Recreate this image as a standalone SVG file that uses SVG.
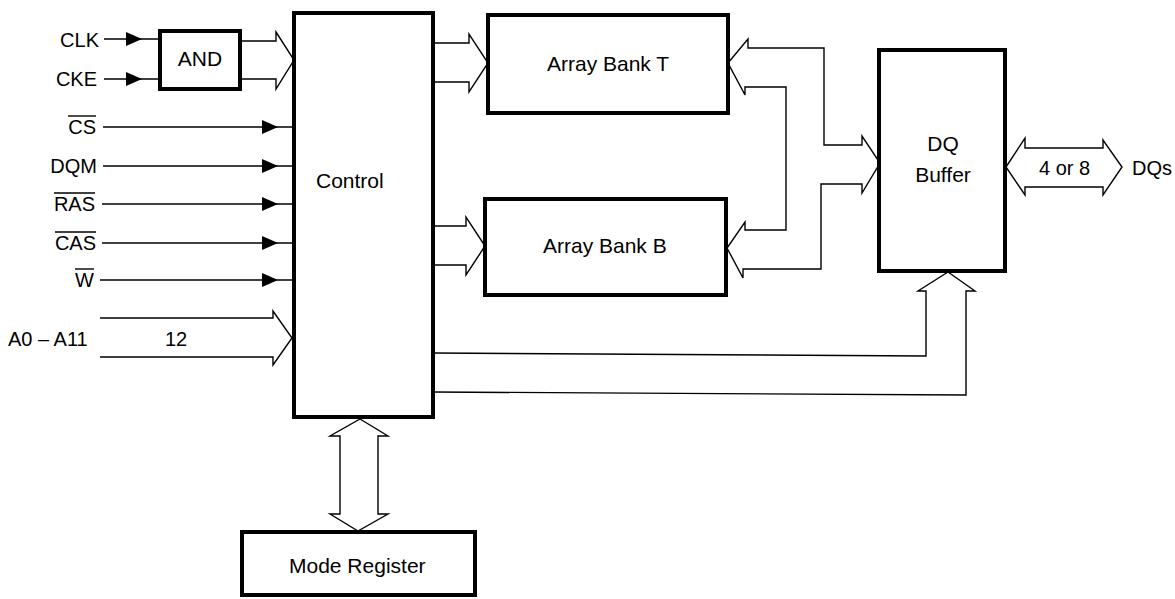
<svg xmlns="http://www.w3.org/2000/svg" width="1175" height="599" viewBox="0 0 1175 599">
<style>
text{font-family:"Liberation Sans",Arial,Helvetica,sans-serif;font-size:20px;fill:#000}
.lbl{text-anchor:end}
.box{fill:#fff;stroke:#000;stroke-width:4}
.bt{font-size:21px}
.w{fill:none;stroke:#000;stroke-width:1.4}
.bus{fill:#fff;stroke:#000;stroke-width:1.4;stroke-linejoin:miter}
.ov{stroke:#000;stroke-width:1.4}
</style>
<defs>
<path id="tri" d="M0,0 L-16,-7 L-16,7 Z" fill="#000"/>
</defs>
<g id="connectors">
<line class="w" x1="104" y1="39" x2="160" y2="39"/><use href="#tri" x="142" y="39"/>
<line class="w" x1="104" y1="79" x2="160" y2="79"/><use href="#tri" x="142" y="79"/>
<line class="w" x1="103" y1="127" x2="294" y2="127"/><use href="#tri" x="278" y="127"/>
<line class="w" x1="103" y1="166" x2="294" y2="166"/><use href="#tri" x="278" y="166"/>
<line class="w" x1="102" y1="204" x2="294" y2="204"/><use href="#tri" x="278" y="204"/>
<line class="w" x1="102" y1="243" x2="294" y2="243"/><use href="#tri" x="278" y="243"/>
<line class="w" x1="100" y1="280" x2="294" y2="280"/><use href="#tri" x="278" y="280"/>
<polyline class="bus" points="240,41 276,41 276,32 294,60 276,89 276,79 240,79"/>
<polyline class="bus" points="100,318 273,318 273,311 292,338 273,365 273,357 100,357"/>
<polyline class="bus" points="433,43 469,43 469,34 488,63 469,92 469,82 433,82"/>
<polyline class="bus" points="433,226 466,226 466,217 485,246 466,275 466,265 433,265"/>
<polygon class="bus" points="728,63 748,39 748,48 824,48 824,145 862,145 862,136 880,163 862,193 862,184 821,184 821,269 743,269 743,278 727,248 745,222 745,230 786,230 786,87 745,87 745,95"/>
<polyline class="bus" points="433,353 926,356 926,291 918,291 948,272 975,291 966,291 966,395 433,392"/>
<polygon class="bus" points="1006,167 1025,138 1025,148 1103,148 1103,140 1122,167 1103,195 1103,187 1025,187 1025,195"/>
<polygon class="bus" points="360,419 388,436 378,436 378,514 388,514 358,531 330,514 340,514 340,436 330,436"/>
</g>
<g id="labels">
<text class="lbl" x="99" y="47">CLK</text>
<text class="lbl" x="97" y="86">CKE</text>
<text class="lbl" x="96" y="134">CS</text><line class="ov" x1="68" y1="116" x2="96" y2="116"/>
<text class="lbl" x="97" y="173">DQM</text>
<text class="lbl" x="95" y="211">RAS</text><line class="ov" x1="54" y1="193" x2="95" y2="193"/>
<text class="lbl" x="96" y="250">CAS</text><line class="ov" x1="55" y1="232" x2="96" y2="232"/>
<text class="lbl" x="94" y="287">W</text><line class="ov" x1="75" y1="269" x2="94" y2="269"/>
<text x="8" y="346">A0 – A11</text>
<text x="165" y="346">12</text>
<text x="1039" y="175">4 or 8</text>
<text x="1132" y="175">DQs</text>
</g>
<g id="and"><rect class="box" x="160" y="31" width="80" height="58"/><text class="bt" x="200" y="66" text-anchor="middle">AND</text></g>
<g id="control"><rect class="box" x="294" y="13" width="139" height="404"/><text class="bt" x="316" y="188">Control</text></g>
<g id="bankT"><rect class="box" x="488" y="15" width="240" height="98"/><text class="bt" x="547" y="71">Array Bank T</text></g>
<g id="bankB"><rect class="box" x="485" y="199" width="241" height="96"/><text class="bt" x="543" y="253">Array Bank B</text></g>
<g id="dqbuffer"><rect class="box" x="879" y="50" width="126" height="221"/><text class="bt" x="943" y="151" text-anchor="middle">DQ</text><text class="bt" x="943" y="182" text-anchor="middle">Buffer</text></g>
<g id="mode"><rect class="box" x="242" y="532" width="233" height="63"/><text class="bt" x="289" y="573">Mode Register</text></g>
</svg>
